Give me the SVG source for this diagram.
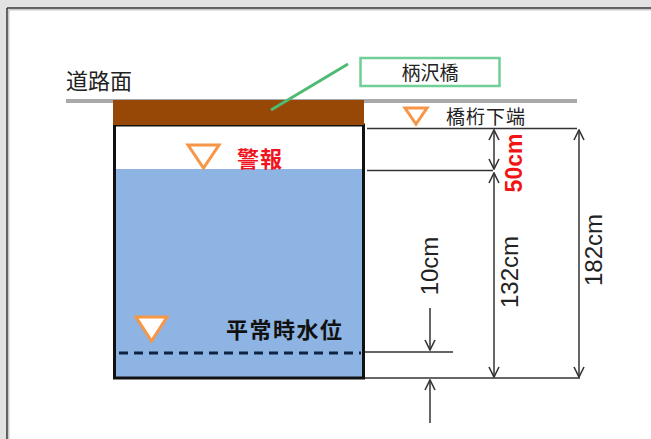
<svg xmlns="http://www.w3.org/2000/svg" width="651" height="439" viewBox="0 0 651 439">
<defs>
<style>
.jp{font-family:"Noto Sans CJK JP","Noto Sans",sans-serif;}
.num{font-family:"Liberation Sans",Arial,sans-serif;}
.dim{stroke:#333;stroke-width:1.5;fill:none;}
.tri{fill:#fff;stroke:#F79646;stroke-width:3;stroke-linejoin:miter;}
</style>
<marker id="ah" viewBox="0 0 12 12" refX="11" refY="6" markerWidth="12" markerHeight="12" markerUnits="userSpaceOnUse" orient="auto-start-reverse">
<path d="M1,1 L11,6 L1,11" fill="none" stroke="#333" stroke-width="1.6"/>
</marker>
</defs>
<rect x="0" y="0" width="651" height="439" fill="#e2e2e2"/>
<rect x="7" y="8" width="644" height="431" fill="#fff"/>
<line x1="7" y1="8" x2="7" y2="439" stroke="#333" stroke-width="1.5"/>
<line x1="7" y1="8" x2="651" y2="8" stroke="#333" stroke-width="1.5"/>
<line x1="8.8" y1="9.8" x2="8.8" y2="439" stroke="#b0b0b0" stroke-width="1"/>
<line x1="8.8" y1="9.8" x2="651" y2="9.8" stroke="#b0b0b0" stroke-width="1"/>

<g id="road">
<line x1="66" y1="101" x2="577" y2="101" stroke="#a9a9a9" stroke-width="4"/>
<text class="jp" x="66" y="89" font-size="22" fill="#222">道路面</text>
</g>

<g id="channel">
<rect x="114.5" y="169" width="249" height="209" fill="#8DB4E2"/>
<rect x="114.5" y="125" width="249" height="253" fill="none" stroke="#111" stroke-width="3"/>
<line x1="119" y1="353" x2="361" y2="353" stroke="#0f2440" stroke-width="3" stroke-dasharray="9,6"/>
</g>

<g id="bridge">
<rect x="113" y="100" width="251" height="25" fill="#974806"/>
</g>

<g id="label-bridge">
<rect x="360.5" y="58" width="139" height="28" fill="#fff" stroke="#6fcf97" stroke-width="2.5"/>
<text class="jp" x="430" y="80" font-size="19" fill="#222" text-anchor="middle">柄沢橋</text>
</g>

<g id="girder">
<polygon class="tri" points="405,108 427,108 416,124"/>
<text class="jp" x="446" y="124" font-size="19" fill="#222" letter-spacing="1">橋桁下端</text>
</g>

<g id="warning">
<polygon class="tri" points="188,145 219,145 203.5,168"/>
<text class="jp" x="237" y="167" font-size="22" font-weight="bold" fill="#f0141e" letter-spacing="1">警報</text>
</g>

<g id="normal">
<polygon class="tri" points="136,317 167,317 151.5,341"/>
<text class="jp" x="226" y="338" font-size="22" font-weight="bold" fill="#111" letter-spacing="1.5">平常時水位</text>
</g>

<g id="connectors">
<line x1="348" y1="64" x2="271" y2="110" stroke="#4dbb73" stroke-width="3"/>
<line class="dim" x1="367" y1="128.5" x2="577" y2="128.5"/>
<line class="dim" x1="367" y1="170.5" x2="493" y2="170.5"/>
<line class="dim" x1="365" y1="352" x2="453" y2="352"/>
<line class="dim" x1="365" y1="378" x2="580" y2="378"/>
<line class="dim" x1="494" y1="130" x2="494" y2="169" marker-start="url(#ah)" marker-end="url(#ah)"/>
<line class="dim" x1="494" y1="173" x2="494" y2="377" marker-start="url(#ah)" marker-end="url(#ah)"/>
<line class="dim" x1="579" y1="130" x2="579" y2="377" marker-start="url(#ah)" marker-end="url(#ah)"/>
<line class="dim" x1="430" y1="308" x2="430" y2="350" marker-end="url(#ah)"/>
<line class="dim" x1="430" y1="423" x2="430" y2="380" marker-end="url(#ah)"/>
</g>

<g id="dims">
<text class="num" transform="translate(522,163) rotate(-90)" font-size="23" font-weight="bold" fill="#f01414" text-anchor="middle">50cm</text>
<text class="num" transform="translate(518,272) rotate(-90)" font-size="24" fill="#222" text-anchor="middle">132cm</text>
<text class="num" transform="translate(602,250) rotate(-90)" font-size="24" fill="#222" text-anchor="middle">182cm</text>
<text class="num" transform="translate(438,266) rotate(-90)" font-size="24" fill="#222" text-anchor="middle">10cm</text>
</g>
</svg>
